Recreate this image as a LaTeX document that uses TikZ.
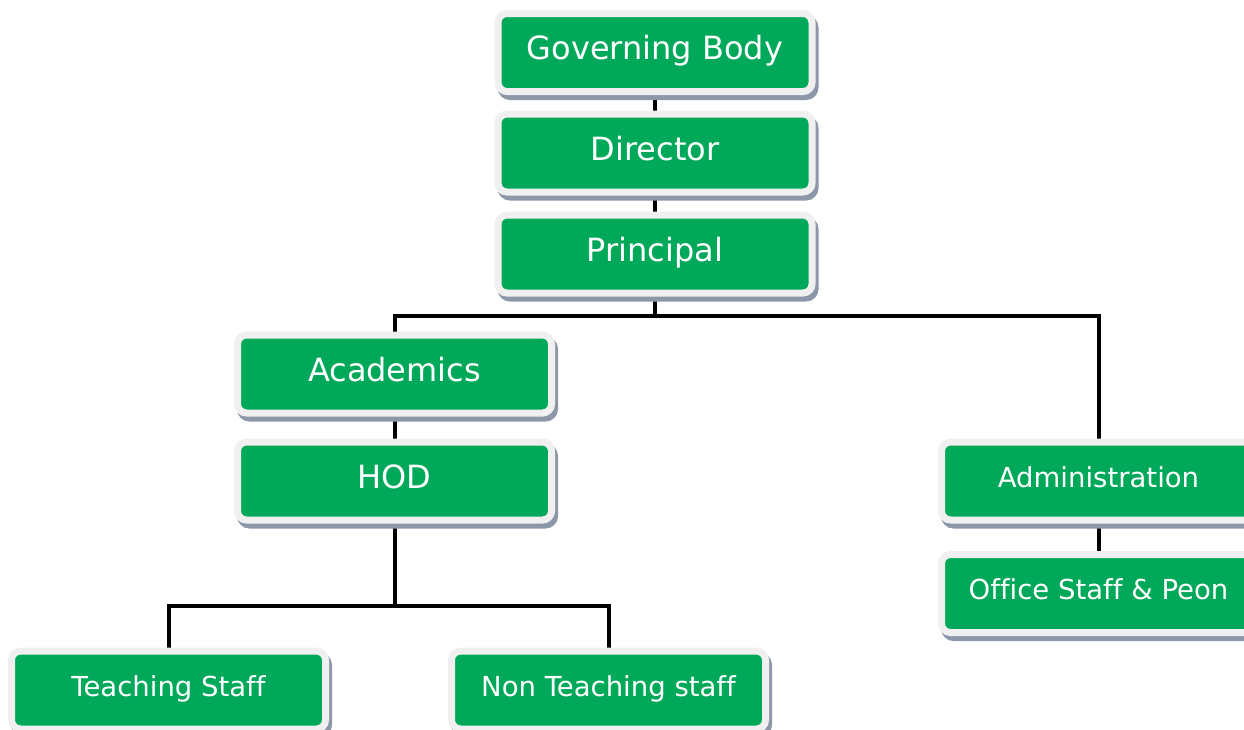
\documentclass[tikz,border=0pt]{standalone}
\usepackage{fontspec}
\setmainfont{DejaVu Sans}[Ligatures=NoCommon]
\usetikzlibrary{shadows,backgrounds}
\definecolor{boxgreen}{RGB}{0,168,89}
\definecolor{rimgray}{RGB}{240,240,240}
\definecolor{shadegray}{RGB}{140,152,170}
\tikzset{
	orgbox/.style={rectangle, rounded corners=9pt, fill=boxgreen, draw=rimgray, line width=7pt,
		minimum width=314pt, minimum height=78pt, inner sep=0pt, text=white,
		font=\fontsize{32}{37}\selectfont, text height=24pt, text depth=10pt,
		drop shadow={shadow xshift=3pt, shadow yshift=-5pt, fill=shadegray, draw=shadegray, line width=7pt, opacity=1}},
	smallbox/.style={orgbox, font=\fontsize{27.5}{32}\selectfont, text height=21pt, text depth=9pt},
	link/.style={line width=4pt}
}

\begin{document}
\begin{tikzpicture}[x=1pt, y=-1pt]
		%%%%% START %%%%%
		
		\useasboundingbox (0, 0) rectangle (1244, 729);
		
		\node[orgbox] (gov) at (655, 52.5) {Governing Body};
		\node[orgbox] (dir) at (655, 153) {Director};
		\node[orgbox] (prin) at (655, 254) {Principal};
		
		\node[orgbox] (acad) at (394.5, 374) {Academics};
		\node[orgbox] (hod) at (394.5, 481) {HOD};
		
		\node[smallbox] (admin) at (1098.5, 481) {Administration};
		\node[smallbox] (office) at (1098.5, 593.5) {Office Staff \& Peon};
		
		\node[smallbox] (teach) at (168.5, 690) {Teaching Staff};
		\node[smallbox] (nonteach) at (608.5, 690) {Non Teaching staff};
		
		\coordinate (pbar) at (655, 316);
		\coordinate (hbar) at (394.5, 606);
		
		\begin{pgfonlayer}{background}
		\draw[link] (gov) -- (dir);
		\draw[link] (dir) -- (prin);
		\draw[link] (prin) -- (pbar);
		\draw[link] (acad) |- (pbar) -| (admin);
		\draw[link] (acad) -- (hod);
		\draw[link] (admin) -- (office);
		\draw[link] (hod) -- (hbar);
		\draw[link] (teach) |- (hbar) -| (nonteach);
		\end{pgfonlayer}
		
		%%%%% END %%%%%
\end{tikzpicture}
\end{document}
